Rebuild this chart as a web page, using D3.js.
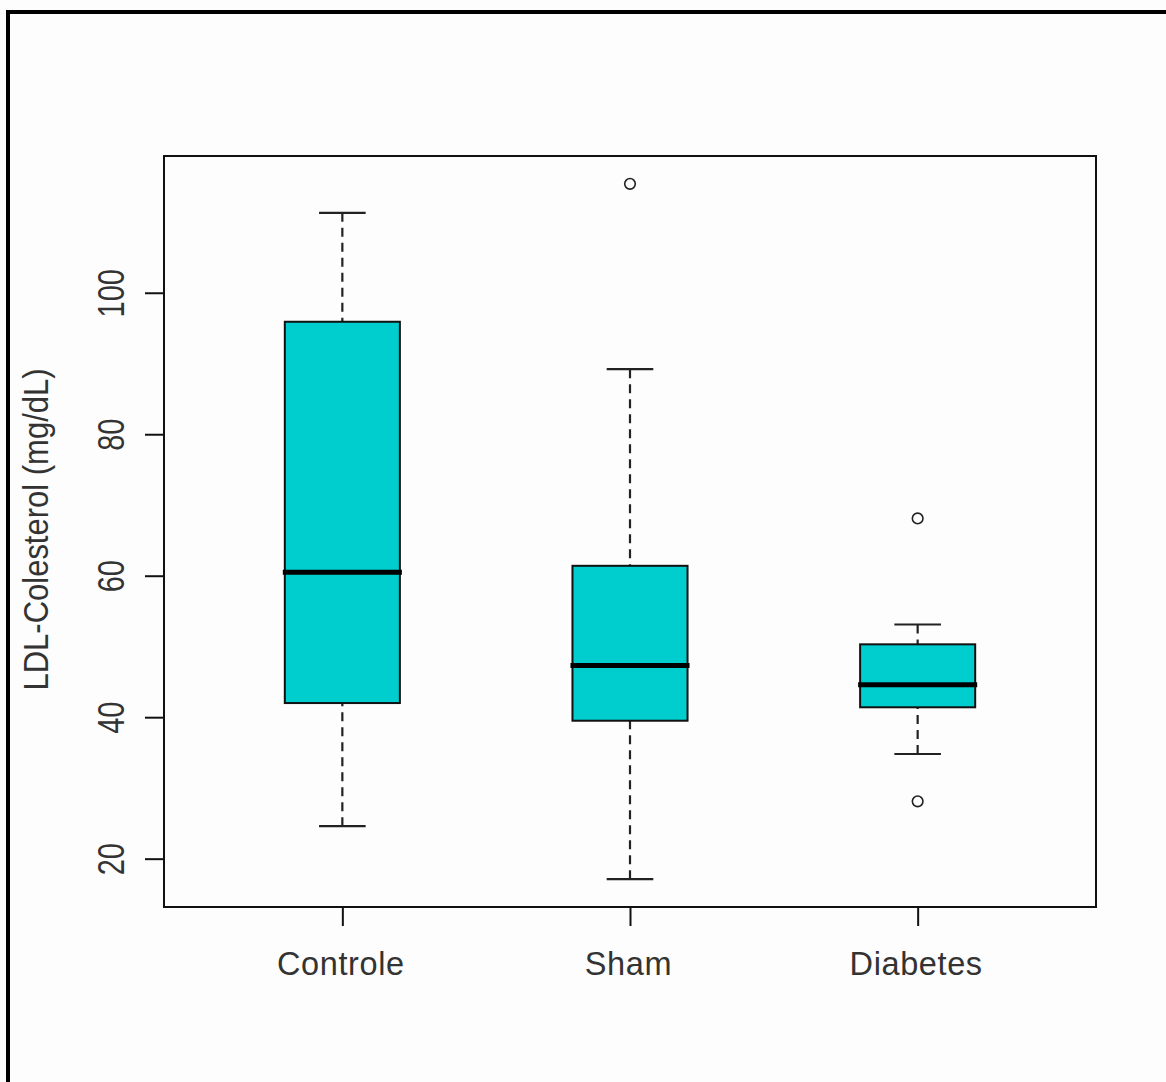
<!DOCTYPE html>
<html>
<head>
<meta charset="utf-8">
<script src="https://cdn.jsdelivr.net/npm/d3@7"></script>
<style>
  html, body { margin: 0; padding: 0; background: #fdfdfd; }
  svg { display: block; }
</style>
</head>
<body>
<script>
// ---- data ----
const categories = ["Controle", "Sham", "Diabetes"];
const lowerWhisker = [24.6, 17.1, 34.8];
const q1 = [42.0, 39.5, 41.4];
const medians = [60.5, 47.3, 44.6];
const q3 = [95.9, 61.4, 50.3];
const upperWhisker = [111.3, 89.2, 53.1];
const outliers = [[], [115.4], [68.1, 28.1]];
const yTicks = [20, 40, 60, 80, 100];
const yTitle = "LDL-Colesterol (mg/dL)";

// ---- layout ----
const W = 1166, H = 1082;
const plot = { left: 164, top: 156, right: 1096, bottom: 907 };
const FILL = "#00cdcd";
const FONT = "'Liberation Sans', Arial, sans-serif";

const svg = d3.select("body").append("svg").attr("width", W).attr("height", H);
svg.append("rect").attr("width", W).attr("height", H).attr("fill", "#fdfdfd");

// outer border (left & top visible)
svg.append("path").attr("d", `M8,${H + 5} V12 H${W + 5}`)
  .attr("fill", "none").attr("stroke", "#000").attr("stroke-width", 4);

// scales (R-like 4% extension)
const n = categories.length;
const xl = [0.5, n + 0.5];
const xp = (xl[1] - xl[0]) * 0.04;
const x = d3.scaleLinear().domain([xl[0] - xp, xl[1] + xp]).range([plot.left, plot.right]);

const allVals = lowerWhisker.concat(upperWhisker, outliers.flat());
const yl = d3.extent(allVals);
const yp = (yl[1] - yl[0]) * 0.04;
const y = d3.scaleLinear().domain([yl[0] - yp, yl[1] + yp]).range([plot.bottom, plot.top]);

const boxHalf = 0.2;   // in x units
const capHalf = 0.081;

const g = svg.append("g");

categories.forEach((c, i) => {
  const cx = x(i + 1);
  const bx0 = x(i + 1 - boxHalf), bx1 = x(i + 1 + boxHalf);
  const cx0 = x(i + 1 - capHalf), cx1 = x(i + 1 + capHalf);
  // whiskers (dashed)
  [[lowerWhisker[i], q1[i]], [upperWhisker[i], q3[i]]].forEach(([a, b]) => {
    g.append("line").attr("x1", cx).attr("x2", cx).attr("y1", y(a)).attr("y2", y(b))
      .attr("stroke", "#222").attr("stroke-width", 2.2).attr("stroke-dasharray", "9,6");
    g.append("line").attr("x1", cx0).attr("x2", cx1).attr("y1", y(a)).attr("y2", y(a))
      .attr("stroke", "#222").attr("stroke-width", 2.2);
  });
  // box
  g.append("rect").attr("x", bx0).attr("y", y(q3[i]))
    .attr("width", bx1 - bx0).attr("height", y(q1[i]) - y(q3[i]))
    .attr("fill", FILL).attr("stroke", "#111").attr("stroke-width", 2);
  // median
  g.append("line").attr("x1", bx0 - 2).attr("x2", bx1 + 2)
    .attr("y1", y(medians[i])).attr("y2", y(medians[i]))
    .attr("stroke", "#000").attr("stroke-width", 5);
  // outliers
  outliers[i].forEach(v => {
    g.append("circle").attr("cx", cx).attr("cy", y(v)).attr("r", 5.3)
      .attr("fill", "#fdfdfd").attr("stroke", "#222").attr("stroke-width", 1.6);
  });
});

// frame
svg.append("rect").attr("x", plot.left).attr("y", plot.top)
  .attr("width", plot.right - plot.left).attr("height", plot.bottom - plot.top)
  .attr("fill", "none").attr("stroke", "#111").attr("stroke-width", 2);

// y axis
const ya = svg.append("g").attr("transform", `translate(${plot.left},0)`)
  .call(d3.axisLeft(y).tickValues(yTicks).tickSize(19).tickSizeOuter(0));
ya.select(".domain").remove();
ya.selectAll(".tick line").attr("stroke", "#111").attr("stroke-width", 2);
ya.attr("font-family", FONT).attr("font-size", 29);
ya.selectAll(".tick text")
  .attr("x", null).attr("dy", null).attr("fill", "#333")
  .attr("text-anchor", "middle")
  .attr("transform", `translate(${124 - plot.left},0) rotate(-90) scale(1,1.25)`);

// x axis
const xa = svg.append("g").attr("transform", `translate(0,${plot.bottom})`)
  .call(d3.axisBottom(x).tickValues(d3.range(1, n + 1)).tickFormat(d => categories[d - 1])
    .tickSize(19).tickSizeOuter(0));
xa.select(".domain").remove();
xa.selectAll(".tick line").attr("stroke", "#111").attr("stroke-width", 2);
xa.attr("font-family", FONT).attr("font-size", 32.5);
xa.selectAll(".tick text").attr("y", 67.5).attr("dy", null).attr("fill", "#333")
  .attr("letter-spacing", "0.6px").attr("dx", -2);

// y title
svg.append("text")
  .attr("transform", `translate(48,${(plot.top + plot.bottom) / 2 - 2}) rotate(-90) scale(1,1.13)`)
  .attr("text-anchor", "middle")
  .attr("font-family", FONT).attr("font-size", 31)
  .attr("fill", "#333")
  .text(yTitle);
</script>
</body>
</html>
